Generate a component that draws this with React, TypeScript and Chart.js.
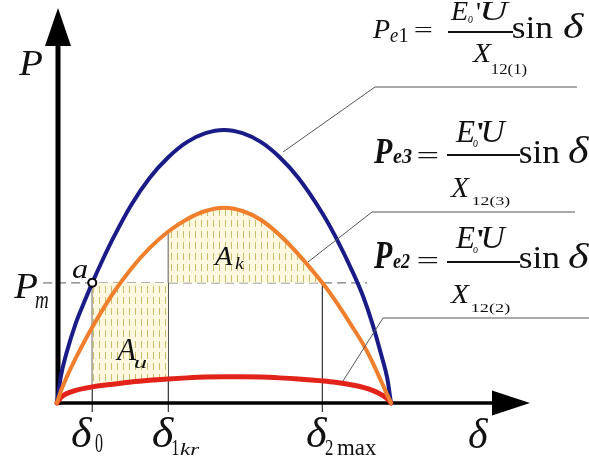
import React, { useEffect, useRef } from "react";
import { Chart, registerables } from "chart.js";

Chart.register(...registerables);

// Power angle δ (degrees) where the characteristic curves are sampled
const delta = [0, 2, 5, 10, 15, 19, 25, 30, 40, 50, 60, 70, 80, 90, 100, 110, 120, 130, 143, 150, 160, 165, 170, 175, 178, 180];
// Pre-fault characteristic Pe1 (relative units)
const pe1 = [0, 0.095, 0.18, 0.29, 0.375, 0.44, 0.53, 0.6, 0.725, 0.825, 0.9, 0.955, 0.988, 1.0, 0.988, 0.955, 0.9, 0.825, 0.695, 0.61, 0.47, 0.39, 0.29, 0.17, 0.09, 0];
// Post-fault characteristic Pe3
const pe3 = [0, 0.042, 0.091, 0.163, 0.228, 0.277, 0.346, 0.4, 0.492, 0.568, 0.628, 0.673, 0.703, 0.715, 0.703, 0.67, 0.615, 0.545, 0.44, 0.375, 0.27, 0.215, 0.15, 0.075, 0.03, 0];
// Fault characteristic Pe2
const pe2 = [0, 0.02, 0.034, 0.046, 0.054, 0.059, 0.065, 0.069, 0.077, 0.083, 0.088, 0.092, 0.095, 0.096, 0.096, 0.095, 0.092, 0.088, 0.081, 0.076, 0.065, 0.057, 0.046, 0.03, 0.016, 0];

// Mechanical power and the marked angles
const pm = 0.44;
const delta0 = 19;
const delta1kr = 60;
const delta2max = 143;

const SERIF = '"Liberation Serif", "Times New Roman", serif';
const BLUE = "#1b1b87";
const ORANGE = "#ef7f2c";
const RED = "#e2231a";
const INK = "#111111";
const LEADER = "#555555";

const pts = (vals: number[]) => delta.map((d, i) => ({ x: d, y: vals[i] }));
const between = (vals: number[], a: number, b: number) => pts(vals).filter((p) => p.x >= a && p.x <= b);

// Draw a text run so that its ink fills the given box
function boxText(
  ctx: CanvasRenderingContext2D,
  s: string,
  l: number,
  t: number,
  r: number,
  b: number,
  font: string
) {
  ctx.save();
  ctx.font = font;
  ctx.fillStyle = INK;
  ctx.textAlign = "left";
  ctx.textBaseline = "alphabetic";
  const m = ctx.measureText(s);
  const inkW = m.actualBoundingBoxLeft + m.actualBoundingBoxRight;
  const inkH = m.actualBoundingBoxAscent + m.actualBoundingBoxDescent;
  const sx = inkW > 0 ? (r - l) / inkW : 1;
  const sy = inkH > 0 ? (b - t) / inkH : 1;
  ctx.translate(l, t);
  ctx.scale(sx, sy);
  ctx.fillText(s, m.actualBoundingBoxLeft, m.actualBoundingBoxAscent);
  ctx.restore();
}

function line(ctx: CanvasRenderingContext2D, p: number[][], color: string, width: number) {
  ctx.save();
  ctx.strokeStyle = color;
  ctx.lineWidth = width;
  ctx.beginPath();
  ctx.moveTo(p[0][0], p[0][1]);
  for (let i = 1; i < p.length; i++) ctx.lineTo(p[i][0], p[i][1]);
  ctx.stroke();
  ctx.restore();
}

type Glyphs = {
  P: number[]; e: number[]; d?: number[]; eq: number[]; E: number[]; o: number[]; q: number[]; U: number[];
  bar: number[]; sin: number[]; dl: number[]; X: number[]; xs: number[];
};

// P_e = (E_o'U / X_12) sin δ
function formula(ctx: CanvasRenderingContext2D, sub: string, bold: boolean, g: Glyphs) {
  const it = `italic 28px ${SERIF}`;
  const bi = `bold italic 30px ${SERIF}`;
  const up = `28px ${SERIF}`;
  boxText(ctx, "P", g.P[0], g.P[1], g.P[2], g.P[3], bold ? bi : it);
  if (g.d) {
    boxText(ctx, "e", g.e[0], g.e[1], g.e[2], g.e[3], it);
    boxText(ctx, sub, g.d[0], g.d[1], g.d[2], g.d[3], up);
  } else {
    boxText(ctx, "e" + sub, g.e[0], g.e[1], g.e[2], g.e[3], bi);
  }
  boxText(ctx, "=", g.eq[0], g.eq[1], g.eq[2], g.eq[3], up);
  boxText(ctx, "E", g.E[0], g.E[1], g.E[2], g.E[3], it);
  boxText(ctx, "o", g.o[0], g.o[1], g.o[2], g.o[3], it);
  boxText(ctx, "'", g.q[0], g.q[1], g.q[2], g.q[3], up);
  boxText(ctx, "U", g.U[0], g.U[1], g.U[2], g.U[3], it);
  line(ctx, [[g.bar[0], g.bar[2]], [g.bar[1], g.bar[2]]], INK, 2);
  boxText(ctx, "sin", g.sin[0], g.sin[1], g.sin[2], g.sin[3], up);
  boxText(ctx, "δ", g.dl[0], g.dl[1], g.dl[2], g.dl[3], it);
  boxText(ctx, "X", g.X[0], g.X[1], g.X[2], g.X[3], it);
  boxText(ctx, `12(${sub})`, g.xs[0], g.xs[1], g.xs[2], g.xs[3], up);
}

const diagramPlugin = {
  id: "powerAngleDiagram",
  beforeDatasetsDraw(chart: any) {
    const ctx: CanvasRenderingContext2D = chart.ctx;
    const X = (v: number) => chart.scales.x.getPixelForValue(v);
    const Y = (v: number) => chart.scales.y.getPixelForValue(v);
    const area = chart.chartArea;
    const ox = X(0) + 1;
    const oy = Y(0);

    // Pm level, dashed
    ctx.save();
    ctx.strokeStyle = "#7a7a7a";
    ctx.lineWidth = 1.2;
    ctx.setLineDash([9, 5]);
    ctx.beginPath();
    ctx.moveTo(X(-7.5), Y(pm));
    ctx.lineTo(X(167), Y(pm));
    ctx.stroke();
    ctx.restore();

    // angle markers
    const idx1 = delta.indexOf(delta1kr);
    line(ctx, [[X(delta0), oy + 9], [X(delta0), Y(pm)]], "#333", 1.2);
    line(ctx, [[X(delta1kr), oy + 9], [X(delta1kr), Y(pe3[idx1])]], "#333", 1.2);
    line(ctx, [[X(delta2max), oy + 9], [X(delta2max), Y(pm)]], "#333", 1.2);

    // axes with arrow heads
    ctx.save();
    ctx.fillStyle = "#000";
    ctx.strokeStyle = "#000";
    ctx.lineWidth = 5;
    ctx.beginPath();
    ctx.moveTo(ox, oy + 2);
    ctx.lineTo(ox, 44);
    ctx.stroke();
    ctx.lineWidth = 3.5;
    ctx.beginPath();
    ctx.moveTo(ox - 2, oy);
    ctx.lineTo(494, oy);
    ctx.stroke();
    ctx.beginPath();
    ctx.moveTo(ox, area.top + 1);
    ctx.lineTo(ox - 13, 46);
    ctx.lineTo(ox + 13, 46);
    ctx.closePath();
    ctx.fill();
    ctx.beginPath();
    ctx.moveTo(530, oy);
    ctx.lineTo(492, oy - 12.5);
    ctx.lineTo(492, oy + 12.5);
    ctx.closePath();
    ctx.fill();
    ctx.restore();
  },
  afterDatasetsDraw(chart: any) {
    const ctx: CanvasRenderingContext2D = chart.ctx;
    const X = (v: number) => chart.scales.x.getPixelForValue(v);
    const Y = (v: number) => chart.scales.y.getPixelForValue(v);

    // operating point a
    ctx.save();
    ctx.beginPath();
    ctx.arc(X(delta0), Y(pm), 4, 0, Math.PI * 2);
    ctx.fillStyle = "#fff";
    ctx.fill();
    ctx.lineWidth = 2;
    ctx.strokeStyle = "#000";
    ctx.stroke();
    ctx.restore();

    // leader lines from curves to their formulas
    line(ctx, [[577, 87], [375, 87], [283, 152]], LEADER, 1);
    line(ctx, [[575, 212], [372, 212], [308, 262]], LEADER, 1);
    line(ctx, [[589, 318], [383, 318], [343, 381]], LEADER, 1);

    const it = (n: number) => `italic ${n}px ${SERIF}`;
    const up = (n: number) => `${n}px ${SERIF}`;

    // axis labels
    boxText(ctx, "P", 18, 52, 42, 75, it(34));
    boxText(ctx, "P", 13, 275, 37, 298, it(34));
    boxText(ctx, "m", 35, 297, 48, 308, it(22));
    boxText(ctx, "a", 72, 265, 87, 278, it(28));
    boxText(ctx, "δ", 72, 417, 93, 447, it(40));
    boxText(ctx, "0", 95, 435, 103, 452, up(22));
    boxText(ctx, "δ", 153, 417, 175, 447, it(40));
    boxText(ctx, "1", 172, 440, 179, 455, up(21));
    boxText(ctx, "kr", 180, 444, 200, 455, it(21));
    boxText(ctx, "δ", 307, 417, 328, 447, it(40));
    boxText(ctx, "2", 325, 440, 333, 455, up(21));
    boxText(ctx, "max", 337, 444, 377, 455, up(21));
    boxText(ctx, "δ", 469, 419, 489, 448, it(40));

    // areas
    boxText(ctx, "A", 213, 247, 233, 265, it(27));
    boxText(ctx, "k", 235, 257, 245, 269, it(18));
    boxText(ctx, "A", 115, 340, 137, 360, it(28));
    boxText(ctx, "u", 135, 360, 147, 368, it(20));

    // characteristic formulas
    formula(ctx, "1", false, {
      P: [372, 20, 390, 38], e: [390, 32, 398, 42], d: [400, 28, 408, 42], eq: [415, 27, 432, 33],
      E: [450, 2, 468, 20], o: [468, 16, 473, 23], q: [477, 3, 480, 10], U: [482, 2, 510, 20],
      bar: [448, 513, 32], sin: [513, 18, 553, 38], dl: [563, 13, 585, 38],
      X: [472, 45, 492, 62], xs: [492, 63, 527, 77],
    });
    formula(ctx, "3", true, {
      P: [373, 140, 393, 163], e: [393, 150, 412, 163], eq: [418, 153, 438, 160],
      E: [455, 122, 475, 142], o: [473, 140, 478, 147], q: [478, 123, 483, 130], U: [483, 122, 507, 142],
      bar: [447, 520, 155], sin: [520, 142, 560, 163], dl: [568, 137, 590, 163],
      X: [450, 178, 470, 197], xs: [473, 197, 510, 208],
    });
    formula(ctx, "2", true, {
      P: [373, 243, 393, 268], e: [393, 255, 410, 268], eq: [418, 258, 438, 265],
      E: [455, 228, 475, 248], o: [473, 247, 478, 253], q: [478, 230, 483, 237], U: [483, 228, 507, 248],
      bar: [447, 520, 262], sin: [520, 248, 560, 268], dl: [568, 243, 590, 268],
      X: [450, 285, 470, 303], xs: [472, 303, 510, 315],
    });
  },
};

function hatchPattern(): CanvasPattern | string {
  const c = document.createElement("canvas");
  c.width = 6;
  c.height = 11;
  const g = c.getContext("2d");
  if (!g) return "#fdf8df";
  g.fillStyle = "#fdf8df";
  g.fillRect(0, 0, 6, 11);
  g.strokeStyle = "#cbbd6a";
  g.lineWidth = 1;
  g.beginPath();
  g.moveTo(3.5, 0);
  g.lineTo(3.5, 7);
  g.stroke();
  return g.createPattern(c, "repeat") || "#fdf8df";
}

export default function App() {
  const ref = useRef<HTMLCanvasElement>(null);

  useEffect(() => {
    let chart: Chart | null = null;
    let cancelled = false;
    const faces = [
      `28px "Liberation Serif"`,
      `italic 28px "Liberation Serif"`,
      `bold italic 28px "Liberation Serif"`,
    ];
    const ready = (document as any).fonts
      ? Promise.all(faces.map((f) => (document as any).fonts.load(f, "Pδ"))).catch(() => null)
      : Promise.resolve(null);

    ready.then(() => {
      if (cancelled || !ref.current) return;
      const pattern = hatchPattern();
      chart = new Chart(ref.current, {
        type: "line",
        data: {
          datasets: [
            { label: "Pe3", data: pts(pe3), borderColor: ORANGE, borderWidth: 4, order: 1, clip: false } as any,
            { label: "Pe2", data: pts(pe2), borderColor: RED, borderWidth: 5, order: 2, clip: false } as any,
            { label: "Pe1", data: pts(pe1), borderColor: BLUE, borderWidth: 4, order: 3, clip: false } as any,
            {
              label: "Ak", data: between(pe3, delta1kr, delta2max), fill: { value: pm },
              backgroundColor: pattern, borderColor: "transparent", borderWidth: 0, order: 5,
            } as any,
            {
              label: "Au", data: between(pe2, delta0, delta1kr), fill: { value: pm },
              backgroundColor: pattern, borderColor: "transparent", borderWidth: 0, order: 5,
            } as any,
          ],
        },
        options: {
          responsive: false,
          maintainAspectRatio: false,
          animation: false,
          events: [],
          layout: { padding: { left: 57, right: 198, top: 7, bottom: 58 } },
          elements: {
            point: { radius: 0 },
            line: { cubicInterpolationMode: "monotone", borderCapStyle: "round" },
          },
          scales: {
            x: { type: "linear", min: 0, max: 180, display: false },
            y: { type: "linear", min: 0, max: 1.45, display: false },
          },
          plugins: { legend: { display: false }, tooltip: { enabled: false } },
        },
        plugins: [diagramPlugin],
      });
    });
    return () => {
      cancelled = true;
      if (chart) chart.destroy();
    };
  }, []);

  return (
    <div style={{ position: "fixed", left: 0, top: 0, width: 589, height: 461, background: "#fff" }}>
      <canvas ref={ref} width={589} height={461} style={{ display: "block", width: 589, height: 461 }} />
    </div>
  );
}
